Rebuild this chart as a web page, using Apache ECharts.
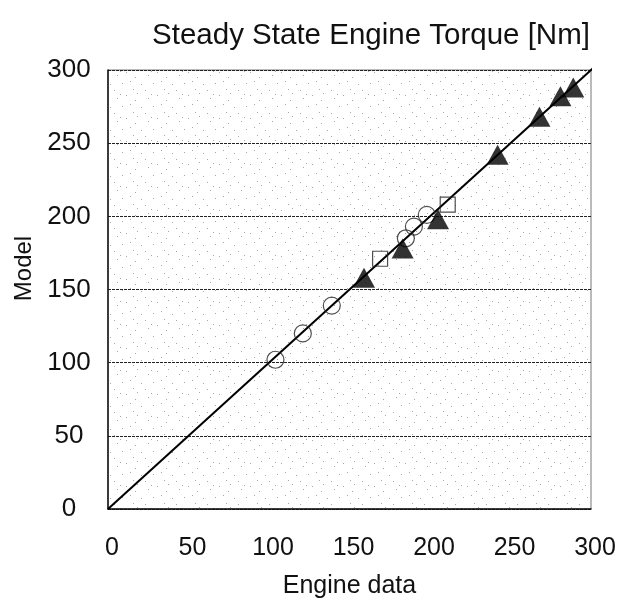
<!DOCTYPE html>
<html><head><meta charset="utf-8">
<script src="https://cdn.jsdelivr.net/npm/echarts@6/dist/echarts.min.js"></script>
<style>html,body{margin:0;padding:0;background:#fff}#c{width:618px;height:602px}</style>
</head><body><div id="c"></div>
<script>
var titleText = 'Steady State Engine Torque [Nm]';
var xName = 'Engine data';
var yName = 'Model';
var circles = [[104,102],[121,120],[139,139],[185,185],[190,193],[198,201]];
var squares = [[169,171],[211,208]];
var triangles = [[159,158],[183,178],[205,198],[242,242],[268,268],[281,282],[289,288]];
var fitLine = [[0,0],[303,303]];

// stipple texture
var pc = document.createElement('canvas');
pc.width = 31; pc.height = 23;
var g = pc.getContext('2d');
g.fillStyle = '#ffffff'; g.fillRect(0,0,31,23);
g.fillStyle = '#a8a8a8';
[[2,3],[13,1],[24,6],[29,14],[6,12],[17,15],[9,20],[21,21],[27,2],[11,8]].forEach(function(p){g.fillRect(p[0],p[1],1,1);});

var chart = echarts.init(document.getElementById('c'));
var font = 'Liberation Sans, Arial, sans-serif';
chart.setOption({
  animation:false,
  backgroundColor:'#fff',
  title:{text:titleText,left:366,top:16,textAlign:'center',textStyle:{fontFamily:font,fontSize:29.5,fontWeight:'normal',color:'#111'}},
  grid:{left:108,right:27,top:70,bottom:93,outerBoundsMode:'none',containLabel:false,show:true,backgroundColor:{image:pc,repeat:'repeat'},borderColor:'#777',borderWidth:1},
  xAxis:{type:'value',min:0,max:300,interval:50,name:xName,nameLocation:'middle',nameGap:65,nameMoveOverlap:false,
    nameTextStyle:{fontFamily:font,fontSize:25,color:'#111'},
    axisLine:{show:true,lineStyle:{color:'#111',width:1.5}},axisTick:{show:false},
    axisLabel:{fontFamily:font,fontSize:25,color:'#111',margin:27,padding:[0,0,0,8]},splitLine:{show:false}},
  yAxis:{type:'value',min:0,max:300,interval:50,name:yName,nameLocation:'middle',nameGap:72,nameMoveOverlap:false,
    nameTextStyle:{fontFamily:font,fontSize:24,color:'#111',padding:[0,0,0,42]},
    axisLine:{show:true,lineStyle:{color:'#111',width:1.5}},axisTick:{show:false},
    axisLabel:{fontFamily:font,fontSize:26,color:'#111',margin:39,align:'center'},
    splitLine:{show:true,lineStyle:{color:'#222',width:1.2,type:[3,1]}}},
  series:[
    {type:'line',data:fitLine,symbol:'none',lineStyle:{color:'#000',width:2},clip:false,z:3},
    {type:'scatter',data:circles,symbol:'circle',symbolSize:17,itemStyle:{color:'rgba(255,255,255,0)',borderColor:'#222',borderWidth:1.2},z:4},
    {type:'scatter',data:squares,symbol:'rect',symbolSize:15,itemStyle:{color:'rgba(255,255,255,0)',borderColor:'#222',borderWidth:1.2},z:4},
    {type:'scatter',data:triangles,symbol:'triangle',symbolSize:[22,20],itemStyle:{color:'#000'},z:5}
  ]
});
</script></body></html>
